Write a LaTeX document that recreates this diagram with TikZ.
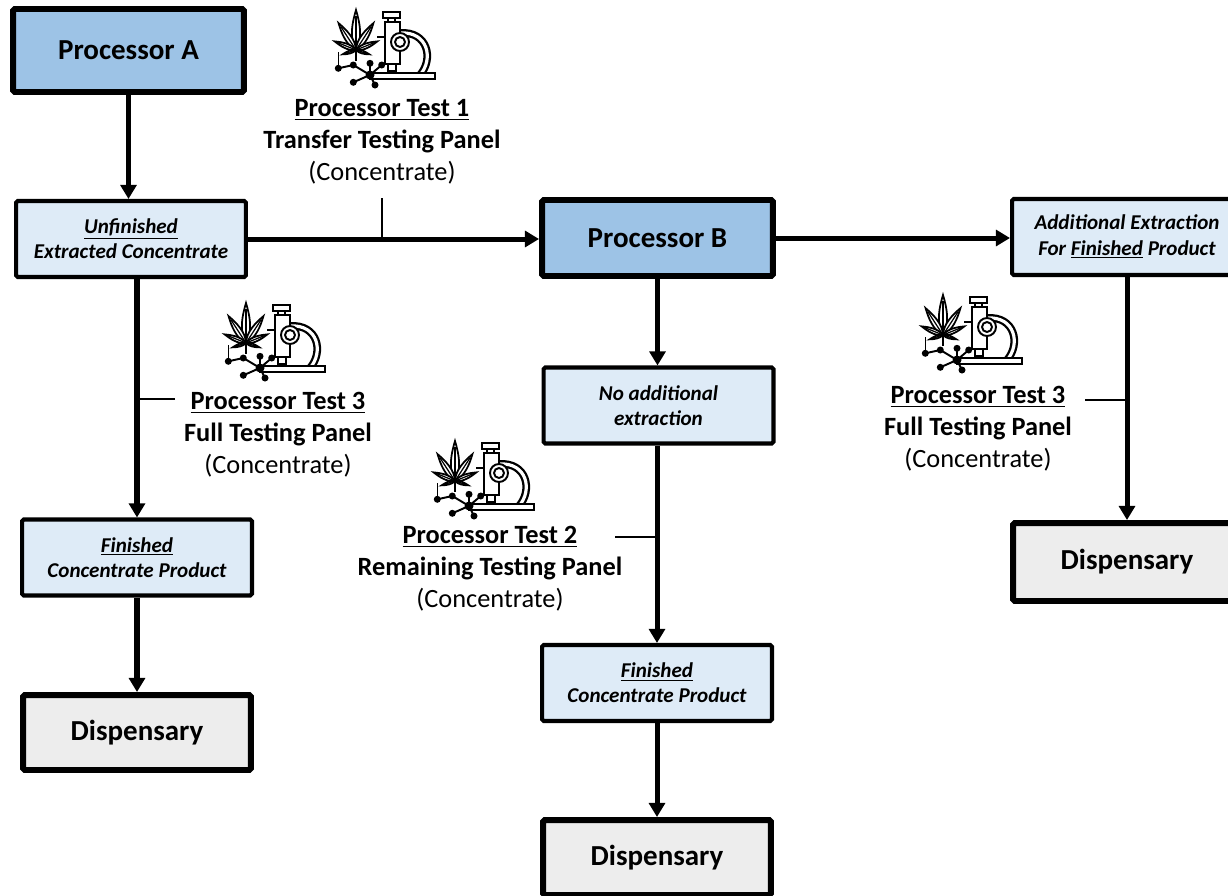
\documentclass[tikz,border=0pt]{standalone}
\usepackage{fontspec}
\setmainfont{Carlito}
\usetikzlibrary{arrows.meta}
\definecolor{procblue}{RGB}{157,195,230}
\definecolor{itemblue}{RGB}{222,235,247}
\definecolor{dispgray}{RGB}{237,237,237}
\tikzset{
  procbox/.style={draw, line width=3.4pt, fill=procblue, rounded corners=1pt, minimum width=4.62cm, minimum height=1.52cm, inner sep=0pt, font=\fontsize{16.5}{20}\selectfont\bfseries},
  itembox/.style={draw, line width=2.3pt, fill=itemblue, rounded corners=1pt, minimum width=4.6cm, minimum height=1.52cm, inner sep=0pt, align=center, font=\fontsize{12}{14.4}\selectfont\bfseries\itshape},
  dispbox/.style={draw, line width=3.4pt, fill=dispgray, rounded corners=1pt, minimum width=4.56cm, minimum height=1.5cm, inner sep=0pt, font=\fontsize{16.5}{20}\selectfont\bfseries},
  testlbl/.style={align=center, inner sep=0pt, font=\fontsize{15}{18.2}\selectfont},
  flow/.style={line width=2.85pt, -{Triangle[width=9pt,length=8pt]}},
  tick/.style={line width=0.85pt},
  pics/labicon/.style={code={
    \draw[line width=4.4pt] (72,26) .. controls (100,24) and (106,52) .. (92,68);
    \draw[line width=1.8pt, white] (72,26) .. controls (100,24) and (106,52) .. (92,68);
    \draw[line width=1.1pt, fill=white] (42,66) rectangle (107,72);
    \draw[line width=1.1pt, fill=white] (55,5) rectangle (72,11);
    \draw[line width=1.1pt, fill=white] (60,11) rectangle (67,15);
    \draw[line width=1.1pt, fill=white] (57,15) rectangle (72,57);
    \draw[line width=1.1pt, fill=white] (60,57) rectangle (68,64);
    \draw[line width=1.1pt, fill=white] (72,35) circle (9);
    \draw[line width=1.1pt] (72,35) circle (5);
    \draw[line width=0.8pt] (49,30) -- (57,30);
    \draw[line width=0.8pt] (10.3,45) -- (10.3,61.3);
    \draw[line width=1.1pt] (28,43) -- (28,54);
    \foreach \a/\l in {90/40,57/32,123/32,22/23,158/23,-18/14,198/14}{
      \begin{scope}[rotate around={\a:(28,43)}]
        \draw[line width=1pt, fill=white] (28,43) .. controls ({28+0.3*\l},{43-0.18*\l}) and ({28+0.7*\l},{43-0.09*\l}) .. ({28+\l},43) .. controls ({28+0.7*\l},{43+0.09*\l}) and ({28+0.3*\l},{43+0.18*\l}) .. (28,43);
        \draw[line width=0.7pt] (28,43) -- ({28+0.85*\l},43);
      \end{scope}
    }
    \draw[line width=1.1pt] (10.3,61.3) -- (25.3,58) -- (42,68) -- (25.3,75.3);
    \draw[line width=1.1pt] (42,68) -- (47,78);
    \draw[line width=1.1pt] (42,68) -- (53.7,58);
    \draw[line width=1.1pt] (42,56.3) -- (42,68);
    \foreach \p in {(10.3,61.3),(25.3,58),(42,56.3),(53.7,58),(25.3,75.3),(47,78)}
      \fill \p circle (3.5);
    \fill (42,68) circle (4.5);
  }}
}
\begin{document}
\begin{tikzpicture}[x=0.02cm,y=-0.02cm]
\useasboundingbox (0,0) rectangle (1228,896);

\node[procbox, minimum height=1.66cm] (procA) at (128.5,50.5) {Processor A};
\node[itembox] (unfin) at (131,239) {\underline{Unfinished}\\Extracted Concentrate};
\node[itembox] (finA) at (137,557.5) {\underline{Finished}\\Concentrate Product};
\node[dispbox] (dispA) at (137,732.5) {Dispensary};

\node[procbox] (procB) at (657.5,238) {Processor B};
\node[itembox] (noext) at (658.5,405.5) {No additional\\extraction};
\node[itembox] (finB) at (657,683) {\underline{Finished}\\Concentrate Product};
\node[dispbox] (dispB) at (657,857.5) {Dispensary};

\node[itembox] (addext) at (1127,237) {Additional Extraction\\For \underline{Finished} Product};
\node[dispbox, minimum height=1.56cm] (dispC) at (1127,562) {Dispensary};

\pic at (328,7) {labicon};
\pic at (218,300) {labicon};
\pic at (427,438) {labicon};
\pic at (915,292) {labicon};

\node[testlbl] (test1) at (382,142) {\textbf{\underline{Processor Test 1}}\\\textbf{Transfer Testing Panel}\\(Concentrate)};
\node[testlbl] (test3A) at (278,435) {\textbf{\underline{Processor Test 3}}\\\textbf{Full Testing Panel}\\(Concentrate)};
\node[testlbl] (test2) at (490,569) {\textbf{\underline{Processor Test 2}}\\\textbf{Remaining Testing Panel}\\(Concentrate)};
\node[testlbl] (test3C) at (978,429) {\textbf{\underline{Processor Test 3}}\\\textbf{Full Testing Panel}\\(Concentrate)};

\draw[flow] (procA.south) -- (procA.south |- unfin.north);
\draw[flow] (finA.north |- unfin.south) -- (finA.north);
\draw[flow] (finA.south) -- (dispA.north);
\draw[flow] (unfin.east) -- (unfin.east -| procB.west);
\draw[flow] (procB.south) -- (procB.south |- noext.north);
\draw[flow] (finB.north |- noext.south) -- (finB.north);
\draw[flow] (finB.south) -- (dispB.north);
\draw[flow] (procB.east) -- (procB.east -| addext.west);
\draw[flow] (addext.south) -- (dispC.north);

\coordinate (k1) at (382,198);
\coordinate (k3A) at (175,399);
\coordinate (k2) at (615,537);
\coordinate (k3C) at (1085,400);
\draw[tick] (k1) -- (k1 |- unfin.east);
\draw[tick] (k3A) -- (k3A -| finA.north);
\draw[tick] (k2) -- (k2 -| finB.north);
\draw[tick] (k3C) -- (k3C -| dispC.north);

\end{tikzpicture}
\end{document}
